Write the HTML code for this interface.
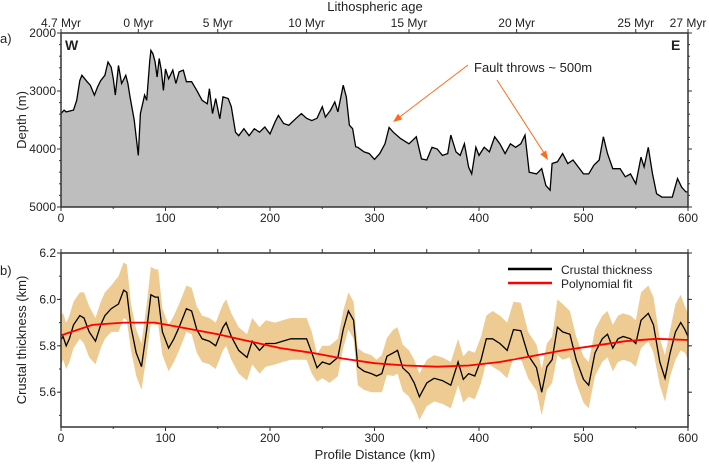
<!DOCTYPE html>
<html><head><meta charset="utf-8"><style>
body{margin:0;background:#fff}
svg text{font-family:"Liberation Sans",sans-serif;fill:#222}
</style></head><body>
<svg id="c" width="709" height="464" viewBox="0 0 709 464" xmlns="http://www.w3.org/2000/svg"></svg>
<script>
const depthKm=[0,3,5,12,15,18,20,25,28,32,35,38,42,45,48,50,52,55,58,62,64,66,70,73,74,76,80,82,85,86,88,90,92,94,96,98,100,103,107,110,113,117,120,125,130,135,140,142,145,148,152,155,160,163,167,170,175,180,185,190,195,200,205,208,213,218,225,230,235,240,245,250,253,258,262,265,270,273,276,279,282,284,290,295,300,305,310,314,318,325,333,340,345,350,355,360,365,370,373,378,382,386,390,393,397,400,405,410,415,420,425,430,435,440,444,448,455,460,464,468,470,475,480,485,490,495,500,505,510,515,519,523,528,535,540,545,550,555,558,562,566,570,575,585,590,594,598,600];
const depthM=[3390,3330,3360,3330,3160,2820,2730,2840,2900,3070,2930,2820,2730,2500,2590,2790,3070,2560,2870,2730,2870,3100,3500,3960,4110,3390,3070,3160,2470,2300,2360,2500,2760,2440,2640,2990,2620,2790,2640,2870,2670,2640,2840,2840,2990,3160,3220,2960,3390,3130,3480,3100,3130,3270,3710,3770,3650,3770,3650,3710,3620,3740,3530,3420,3560,3590,3470,3390,3470,3510,3470,3270,3450,3330,3190,3360,2900,3100,3590,3650,3960,3970,4050,4080,4180,4080,3910,3630,3710,3820,3910,3790,4170,4190,3970,4000,4110,4080,3760,4050,4110,3910,4310,4430,3970,4110,3970,4050,3790,3910,4080,3910,3970,3910,3760,4400,4430,4340,4630,4710,4250,4220,4080,4250,4190,4310,4430,4430,4280,4190,3790,4080,4340,4340,4480,4430,4600,4140,4310,3970,4430,4770,4830,4830,4510,4660,4740,4740];
const ctKm=[0,2,5,8,12,18,22,27,33,38,42,48,55,60,63,67,72,77,82,86,90,93,97,103,108,113,120,125,130,135,142,148,155,158,163,170,178,183,190,196,205,212,220,228,235,240,245,250,257,265,270,275,280,284,290,297,302,307,312,318,322,327,333,338,343,350,357,365,373,380,385,390,396,402,407,413,420,427,433,440,447,455,460,465,470,475,480,487,493,500,505,511,518,523,528,533,538,545,550,555,562,567,573,578,583,588,593,597,600];
const ctVal=[5.827,5.84,5.80,5.83,5.89,5.93,5.92,5.86,5.82,5.89,5.93,5.96,5.98,6.04,6.03,5.88,5.77,5.71,5.87,6.02,6.01,6.01,5.86,5.79,5.83,5.88,5.96,5.95,5.87,5.83,5.82,5.80,5.88,5.90,5.84,5.78,5.75,5.82,5.78,5.81,5.81,5.82,5.83,5.83,5.83,5.77,5.705,5.73,5.72,5.75,5.87,5.95,5.91,5.71,5.69,5.68,5.67,5.68,5.755,5.77,5.78,5.705,5.68,5.64,5.58,5.64,5.66,5.65,5.63,5.73,5.655,5.68,5.67,5.74,5.83,5.83,5.81,5.78,5.87,5.865,5.76,5.705,5.60,5.71,5.74,5.88,5.86,5.85,5.74,5.655,5.63,5.77,5.83,5.85,5.79,5.83,5.84,5.83,5.81,5.91,5.94,5.89,5.73,5.66,5.77,5.86,5.90,5.87,5.84];
const ctErr=[0.11,0.1,0.1,0.1,0.1,0.1,0.11,0.11,0.1,0.1,0.1,0.1,0.12,0.12,0.12,0.1,0.1,0.1,0.11,0.12,0.12,0.12,0.1,0.1,0.1,0.1,0.1,0.1,0.1,0.1,0.1,0.1,0.1,0.1,0.1,0.1,0.1,0.1,0.1,0.1,0.09,0.09,0.09,0.09,0.09,0.09,0.06,0.07,0.08,0.08,0.08,0.08,0.08,0.08,0.08,0.08,0.07,0.08,0.08,0.1,0.1,0.1,0.1,0.1,0.1,0.1,0.1,0.1,0.1,0.1,0.1,0.1,0.1,0.1,0.1,0.12,0.12,0.12,0.12,0.12,0.1,0.1,0.1,0.1,0.1,0.12,0.12,0.1,0.1,0.1,0.1,0.1,0.1,0.1,0.1,0.1,0.1,0.1,0.1,0.12,0.12,0.12,0.1,0.1,0.1,0.12,0.12,0.1,0.1];
const fitKm=[0,30,60,90,120,150,180,210,240,270,300,330,360,390,420,450,480,510,540,570,600];
const fitVal=[5.845,5.89,5.90,5.90,5.875,5.85,5.82,5.79,5.77,5.745,5.725,5.715,5.71,5.715,5.73,5.755,5.78,5.80,5.82,5.83,5.825];
const xTicks=[0,100,200,300,400,500,600];
const depthTicks=[2000,3000,4000,5000];
const ctTicks=[5.6,5.8,6.0,6.2];
const ageLabels=["4.7 Myr","0 Myr","5 Myr","10 Myr","15 Myr","20 Myr","25 Myr","27 Myr"];
const ageKm=[0,74,150,235,333,436,550,600];

const NS="http://www.w3.org/2000/svg";
const svg=document.getElementById('c');
const X0=61,X1=688;
const xs=k=>X0+(k/600)*(X1-X0);
const ya=d=>33+(d-2000)/3000*(207-33);
const yb=v=>253+(6.2-v)/(6.2-5.45)*(427-253);
function el(t,a,p){const e=document.createElementNS(NS,t);for(const k in a)e.setAttribute(k,a[k]);(p||svg).appendChild(e);return e;}
function txt(s,x,y,a){const e=el('text',Object.assign({x:x,y:y,'font-size':12},a||{}));e.textContent=s;return e;}

// Panel a fill
let d='M'+xs(0)+','+ya(5000);
depthKm.forEach((k,i)=>d+=' L'+xs(k).toFixed(1)+','+ya(depthM[i]).toFixed(1));
d+=' L'+xs(600)+','+ya(5000)+'Z';
const area=el('path',{d:d,fill:'#bebebe',stroke:'none'});


let dl='';depthKm.forEach((k,i)=>dl+=(i?' L':'M')+xs(k).toFixed(1)+','+ya(depthM[i]).toFixed(1));
const dline=el('path',{d:dl,fill:'none',stroke:'#000','stroke-width':1.3});



// Panel b band
let bd='';
ctKm.forEach((k,i)=>bd+=(i?' L':'M')+xs(k).toFixed(1)+','+yb(ctVal[i]+ctErr[i]).toFixed(1));
for(let i=ctKm.length-1;i>=0;i--)bd+=' L'+xs(ctKm[i]).toFixed(1)+','+yb(ctVal[i]-ctErr[i]).toFixed(1);
const band=el('path',{d:bd+'Z',fill:'#eecb92',stroke:'none'});


let cl='';ctKm.forEach((k,i)=>cl+=(i?' L':'M')+xs(k).toFixed(1)+','+yb(ctVal[i]).toFixed(1));
const cline=el('path',{d:cl,fill:'none',stroke:'#000','stroke-width':1.3});


let fl='';fitKm.forEach((k,i)=>fl+=(i?' L':'M')+xs(k).toFixed(1)+','+yb(fitVal[i]).toFixed(1));
const fline=el('path',{d:fl,fill:'none',stroke:'#ff0000','stroke-width':1.8});



// frames
const fa=el('rect',{x:X0,y:33,width:X1-X0,height:174,fill:'none',stroke:'#333','stroke-width':1.5});


const fb=el('rect',{x:X0,y:253,width:X1-X0,height:174,fill:'none',stroke:'#333','stroke-width':1.5});



// x ticks
for(let k=0;k<=600;k+=50){
  const big=k%100===0;
  el('line',{x1:xs(k),x2:xs(k),y1:207,y2:207+(big?4:2),stroke:'#333'});
  el('line',{x1:xs(k),x2:xs(k),y1:427,y2:427+(big?4:2),stroke:'#333'});
  el('line',{x1:xs(k),x2:xs(k),y1:253,y2:249,stroke:'#333'});
}
xTicks.forEach(k=>{
  const t1=txt(String(k),xs(k),222,{'text-anchor':'middle'});
  
  
  const t2=txt(String(k),xs(k),442,{'text-anchor':'middle'});
  
  
});
// age axis
ageKm.forEach((k,i)=>{
  el('line',{x1:xs(k),x2:xs(k),y1:33,y2:29,stroke:'#333'});
  const t=txt(ageLabels[i],xs(k),27,{'text-anchor':'middle'});
  
  
});
// y ticks a
for(let v=2000;v<=5000;v+=200){el('line',{x1:X0,x2:X0-2,y1:ya(v),y2:ya(v),stroke:'#333'});el('line',{x1:X1,x2:X1+2,y1:ya(v),y2:ya(v),stroke:'#333'});}
depthTicks.forEach(v=>{
  el('line',{x1:X0,x2:X0-4,y1:ya(v),y2:ya(v),stroke:'#333'});
  el('line',{x1:X1,x2:X1+4,y1:ya(v),y2:ya(v),stroke:'#333'});
  const t=txt(String(v),X0-5,ya(v)+4,{'text-anchor':'end'});
  
  
});
for(let v=5.5;v<=6.21;v+=0.1){el('line',{x1:X0,x2:X0-2,y1:yb(v),y2:yb(v),stroke:'#333'});el('line',{x1:X1,x2:X1+2,y1:yb(v),y2:yb(v),stroke:'#333'});}
ctTicks.forEach(v=>{
  el('line',{x1:X0,x2:X0-4,y1:yb(v),y2:yb(v),stroke:'#333'});
  el('line',{x1:X1,x2:X1+4,y1:yb(v),y2:yb(v),stroke:'#333'});
  const t=txt(v.toFixed(1),X0-5,yb(v)+4,{'text-anchor':'end'});
  
  
});
</script>
<script>
(function(){
const svg=document.getElementById('c');const NS="http://www.w3.org/2000/svg";
function t(s,x,y,a,name){const e=document.createElementNS(NS,'text');e.setAttribute('x',x);e.setAttribute('y',y);for(const k in a)e.setAttribute(k,a[k]);e.textContent=s;


svg.appendChild(e);return e;}
t('Lithospheric age',375,11,{'font-size':13,'text-anchor':'middle'},'top-axis-title');
t('a)',0,43,{'font-size':13},'panel-a-label');
t('b)',0,275,{'font-size':13},'panel-b-label');
t('W',65,50,{'font-size':14,'font-weight':'bold'},'west-label');
t('E',671,50,{'font-size':14,'font-weight':'bold'},'east-label');
t('Depth (m)',26,120,{'font-size':13,'text-anchor':'middle',transform:'rotate(-90 26 120)'},'depth-axis-title');
t('Crustal thickness (km)',26,340,{'font-size':13,'text-anchor':'middle',transform:'rotate(-90 26 340)'},'thickness-axis-title');
t('Profile Distance (km)',375,459,{'font-size':13,'text-anchor':'middle'},'x-axis-title');
t('Fault throws ~ 500m',474,72,{'font-size':13},'annotation-text');
t('Crustal thickness',561,274,{'font-size':12},'legend-label-crustal');
t('Polynomial fit',561,288,{'font-size':12},'legend-label-fit');
function ln(x1,y1,x2,y2,c,w,name){const e=document.createElementNS(NS,'line');
e.setAttribute('x1',x1);e.setAttribute('y1',y1);e.setAttribute('x2',x2);e.setAttribute('y2',y2);e.setAttribute('stroke',c);e.setAttribute('stroke-width',w);


svg.appendChild(e);}
ln(508,269,552,269,'#000',2.5,'legend-swatch-crustal');
ln(508,283,552,283,'#ff0000',2.5,'legend-swatch-fit');
ln(468,65,397,119,'#ff6a1a',1,'annotation-arrow-1');
ln(497,80,546,156,'#ff6a1a',1,'annotation-arrow-2');
function head(x,y,ang,name){const p=document.createElementNS(NS,'polygon');
p.setAttribute('points','0,0 -9,-3.5 -9,3.5');p.setAttribute('fill','#ff6a1a');
p.setAttribute('transform','translate('+x+','+y+') rotate('+ang+')');


svg.appendChild(p);}
head(393,122,Math.atan2(122-65,393-468)*180/Math.PI,'arrowhead-1');
head(548,160,Math.atan2(160-80,548-497)*180/Math.PI,'arrowhead-2');
})();
</script>
</body></html>
